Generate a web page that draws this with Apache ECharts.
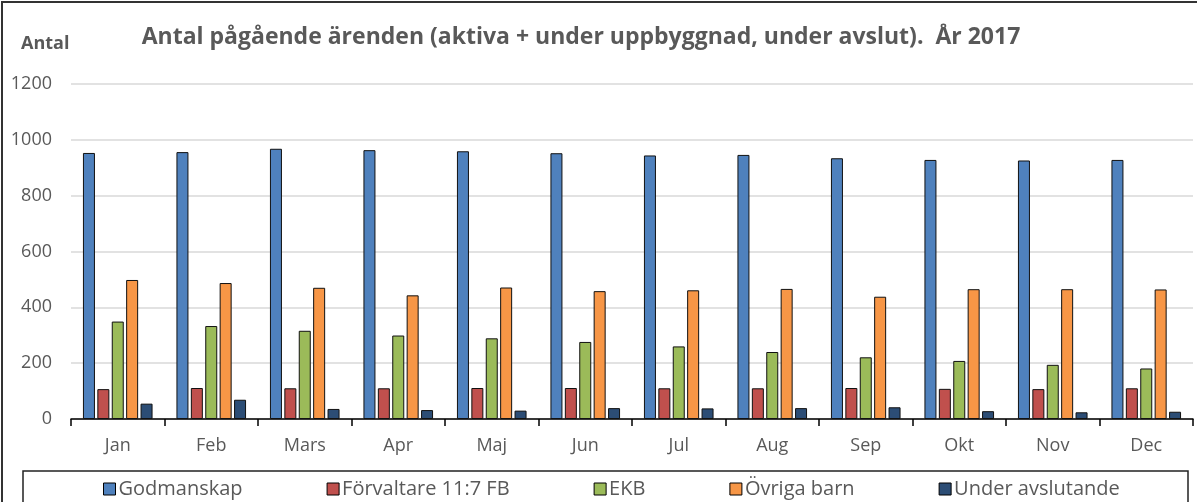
<!DOCTYPE html>
<html>
<head>
<meta charset="utf-8">
<script src="https://cdn.jsdelivr.net/npm/echarts@6/dist/echarts.min.js"></script>
<style>
  html, body { margin: 0; padding: 0; background: #fff; }
  #chart { width: 1197px; height: 502px; }
</style>
</head>
<body>
<div id="chart"></div>
<script>
// månader
const months = ['Jan', 'Feb', 'Mars', 'Apr', 'Maj', 'Jun', 'Jul', 'Aug', 'Sep', 'Okt', 'Nov', 'Dec'];

// serier
const seriesNames = ['Godmanskap', 'Förvaltare 11:7 FB', 'EKB', 'Övriga barn', 'Under avslutande'];
const godmanskap = [953, 956, 968, 963, 959, 952, 944, 946, 934, 928, 926, 928];
const forvaltare = [107, 111, 110, 110, 111, 111, 110, 110, 111, 108, 107, 110];
const ekb = [349, 333, 316, 299, 289, 276, 260, 240, 221, 208, 194, 181];
const ovrigaBarn = [498, 487, 470, 443, 471, 458, 461, 466, 438, 465, 465, 464];
const underAvslutande = [55, 69, 36, 32, 30, 39, 38, 39, 42, 28, 24, 26];

const colors = ['#4F81BD', '#C0504D', '#9BBB59', '#F79646', '#2C4D75'];
const font = 'Open Sans';

const chart = echarts.init(document.getElementById('chart'));

const allData = [godmanskap, forvaltare, ekb, ovrigaBarn, underAvslutande];

chart.setOption({
  animation: false,
  color: colors,
  textStyle: { fontFamily: font },
  title: {
    text: 'Antal pågående ärenden (aktiva + under uppbyggnad, under avslut).  År 2017',
    left: 576,
    textAlign: 'center',
    top: 21,
    textStyle: { color: '#595959', fontSize: 23, fontWeight: 'bold', fontFamily: font }
  },
  graphic: [
    // yttre ram
    { type: 'rect', shape: { x: 2, y: 2, width: 1220, height: 520 }, style: { fill: 'none', stroke: '#333', lineWidth: 2 }, silent: true },
    // legendram
    { type: 'rect', shape: { x: 23, y: 471, width: 1165, height: 40 }, style: { fill: 'none', stroke: '#222', lineWidth: 1.5 }, silent: true },
    // y-axelns titel
    { type: 'text', left: 21, top: 35, style: { text: 'Antal', fill: '#595959', font: 'bold 18px "Open Sans"' } }
  ],
  legend: {
    data: seriesNames,
    top: 474,
    left: 98,
    itemGap: 84,
    itemWidth: 12,
    itemHeight: 12,
    icon: 'rect',
    itemStyle: { borderColor: '#000', borderWidth: 1 },
    textStyle: { color: '#595959', fontSize: 20, fontFamily: font, padding: [0, 0, 0, -2] }
  },
  grid: { left: 71, right: 4, top: 84, bottom: 83 },
  xAxis: {
    type: 'category',
    data: months,
    axisLine: { lineStyle: { color: '#000', width: 1.5 } },
    axisTick: { show: true, length: 7, lineStyle: { color: '#000', width: 1.5 } },
    axisLabel: { color: '#595959', fontSize: 18, margin: 18 }
  },
  yAxis: {
    type: 'value',
    min: 0,
    max: 1200,
    interval: 200,
    axisLine: { show: false },
    axisTick: { show: false },
    axisLabel: { color: '#595959', fontSize: 18, margin: 19, formatter: v => String(v) },
    splitLine: { lineStyle: { color: '#D9D9D9', width: 1.5 } }
  },
  series: seriesNames.map((name, i) => ({
    name: name,
    type: 'bar',
    data: allData[i],
    barWidth: 12,
    barGap: '20%',
    itemStyle: { color: colors[i], borderColor: '#111', borderWidth: 1 }
  }))
});
</script>
</body>
</html>
